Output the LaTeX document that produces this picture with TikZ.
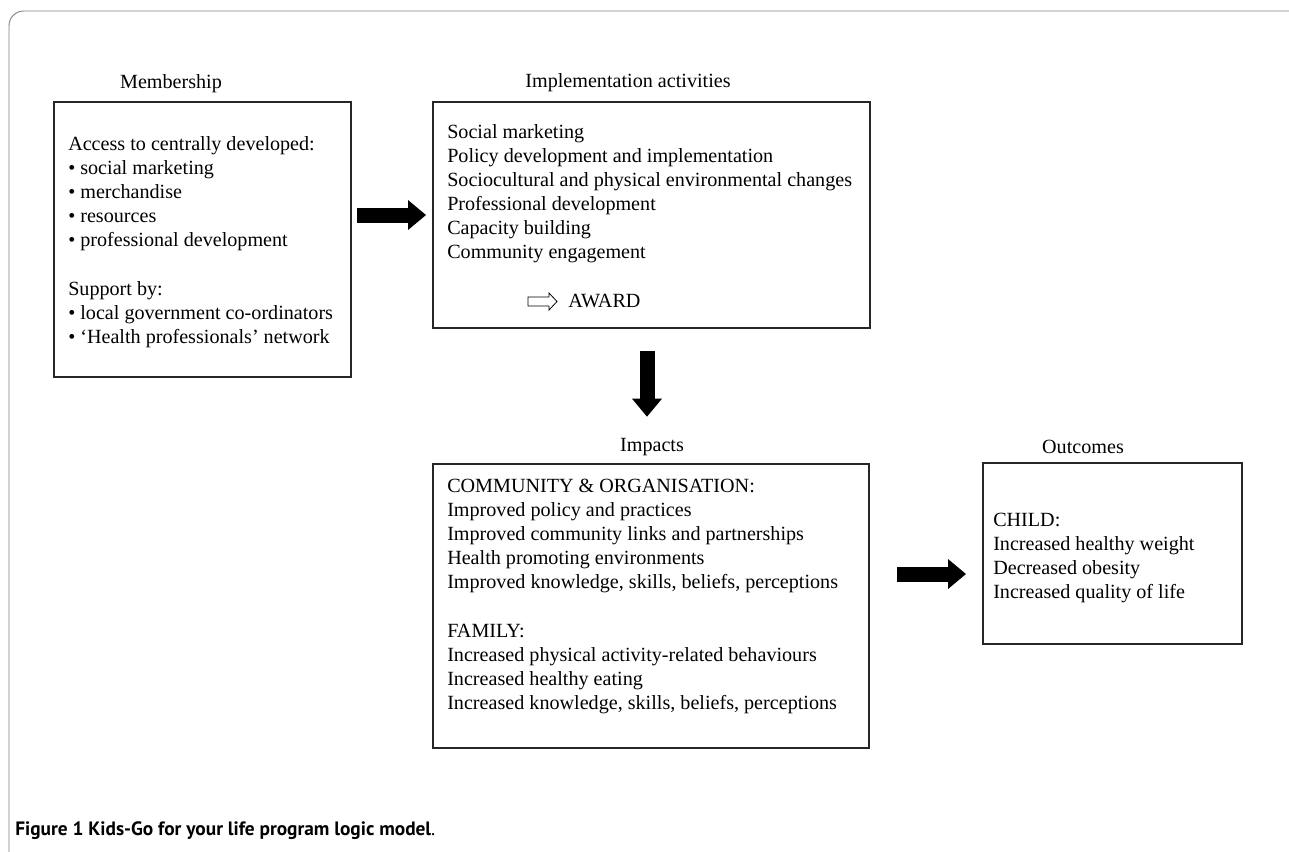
\documentclass[tikz,border=0pt]{standalone}
\usepackage{fontspec}
\setmainfont{Liberation Serif}
\newfontfamily\capfont{PT Sans}
\usetikzlibrary{arrows.meta}

\begin{document}
\begin{tikzpicture}[x=0.75pt, y=-0.75pt, font=\fontsize{15.1}{18}\selectfont,
	box/.style={draw=black!85, line width=1pt, inner sep=0pt},
	txt/.style={anchor=base west, inner sep=0pt},
	heading/.style={anchor=base, inner sep=0pt},
	bigarrow/.style={line width=11.25pt, -{Triangle[width=22.5pt, length=13.5pt, line width=0pt]}}]
	\useasboundingbox (0,0) rectangle (1289,851);
	%frame
	\draw[black!50, line width=0.7pt, rounded corners=11pt] (9,11) rectangle (1310,880);
	%boxes
	\node[box, minimum width=222.75pt, minimum height=206.25pt] (member) at (202.5,239.5) {};
	\node[box, minimum width=327.75pt, minimum height=169.5pt] (impl) at (651.5,215) {};
	\node[box, minimum width=327pt, minimum height=213pt] (impacts) at (651,606) {};
	\node[box, minimum width=194.25pt, minimum height=135.75pt] (outcomes) at (1112.5,553.5) {};
	%headings
	\node[heading] (member-head) at (171,88) {Membership};
	\node[heading] (impl-head) at (628,87) {Implementation activities};
	\node[heading] (impacts-head) at (652,451) {Impacts};
	\node[heading] (outcomes-head) at (1083,453) {Outcomes};
	%membership
	\foreach \line [count=\i from 0] in {
		Access to centrally developed:,
		• social marketing,
		• merchandise,
		• resources,
		• professional development
	}
	\node[txt] (member-a\i) at (68,{150+24.1*\i}) {\line};
	\foreach \line [count=\i from 0] in {
		Support by:,
		• local government co-ordinators,
		• ‘Health professionals’ network
	}
	\node[txt] (member-b\i) at (68,{295+24.1*\i}) {\line};
	%implementation
	\foreach \line [count=\i from 0] in {
		Social marketing,
		Policy development and implementation,
		Sociocultural and physical environmental changes,
		Professional development,
		Capacity building,
		Community engagement
	}
	\node[txt] (impl-\i) at (447,{138+24*\i}) {\line};
	\node[txt] (award) at (568,307) {AWARD};
	\draw[line width=0.6pt, line join=miter] (528,297) -- (549,297) -- (549,293) -- (557,301.5)
		-- (549,310) -- (549,306) -- (528,306) -- cycle;
	%impacts
	\foreach \line [count=\i from 0] in {
		COMMUNITY \& ORGANISATION:,
		Improved policy and practices,
		Improved community links and partnerships,
		Health promoting environments,
		{Improved knowledge, skills, beliefs, perceptions}
	}
	\node[txt] (impacts-a\i) at (447,{492+24*\i}) {\line};
	\foreach \line [count=\i from 0] in {
		FAMILY:,
		Increased physical activity-related behaviours,
		Increased healthy eating,
		{Increased knowledge, skills, beliefs, perceptions}
	}
	\node[txt] (impacts-b\i) at (447,{637+24*\i}) {\line};
	%outcomes
	\foreach \line [count=\i from 0] in {
		CHILD:,
		Increased healthy weight,
		Decreased obesity,
		Increased quality of life
	}
	\node[txt] (outcomes-\i) at (993,{526+24.2*\i}) {\line};
	%arrows
	\coordinate (downmid) at (647,380);
	\coordinate (rightmid) at (930,574);
	\draw[bigarrow, shorten <=4pt, shorten >=4.75pt] (member.east |- impl.west) -- (impl.west);
	\draw[bigarrow, shorten <=16.5pt, shorten >=35pt] (impl.south -| downmid) -- (impacts.north -| downmid);
	\draw[bigarrow, shorten <=20.5pt, shorten >=12.25pt] (impacts.east |- rightmid) -- (outcomes.west |- rightmid);
	%caption
	\node[txt, font=\capfont\fontsize{14.5}{16}\selectfont] (caption) at (15,835)
		{\textbf{Figure 1 Kids-Go for your life program logic model}.};
\end{tikzpicture}
\end{document}
